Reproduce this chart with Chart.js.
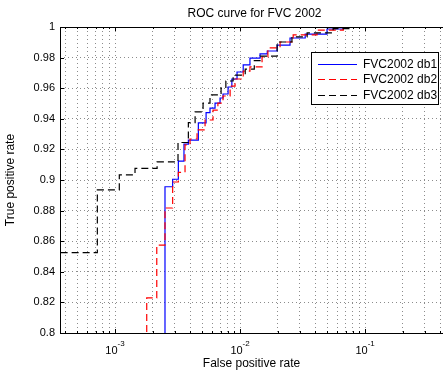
<!DOCTYPE html>
<html>
<head>
<meta charset="utf-8">
<script src="https://cdn.jsdelivr.net/npm/chart.js@4/dist/chart.umd.min.js"></script>
<style>
  html, body { margin: 0; padding: 0; background: #fff; }
  #wrap { width: 443px; height: 370px; }
</style>
</head>
<body>
<div id="wrap"><canvas id="roc" width="443" height="370"></canvas></div>
<script>
// --- data (false positive rate / true positive rate) ---
const db1Fpr = [2.51e-3, 2.51e-3, 2.89e-3, 3.21e-3, 3.56e-3, 3.86e-3, 4.64e-3, 5.35e-3, 5.75e-3, 6.31e-3, 6.92e-3, 7.31e-3, 8.02e-3, 8.6e-3, 9.46e-3, 1.06e-2, 1.2e-2, 1.445e-2, 1.65e-2, 1.98e-2, 2.51e-2, 3.32e-2, 4.96e-2, 6.7e-2, 1];
const db1Tpr = [0.7, 0.8956, 0.9005, 0.9124, 0.9235, 0.9261, 0.9374, 0.944, 0.947, 0.9503, 0.9536, 0.9562, 0.9608, 0.966, 0.9706, 0.9752, 0.9797, 0.9824, 0.9843, 0.9882, 0.9928, 0.9954, 0.9987, 1, 1];

const db2Fpr = [1.793e-3, 1.793e-3, 2.157e-3, 2.51e-3, 2.89e-3, 3.21e-3, 3.63e-3, 3.98e-3, 4.53e-3, 5.25e-3, 6.08e-3, 6.65e-3, 7.31e-3, 8.33e-3, 9.12e-3, 1.06e-2, 1.2e-2, 1.5e-2, 1.67e-2, 2.09e-2, 2.66e-2, 4.13e-2, 6.7e-2, 1];
const db2Tpr = [0.7, 0.8229, 0.8575, 0.8817, 0.8987, 0.905, 0.9229, 0.9268, 0.9327, 0.9392, 0.9457, 0.9503, 0.9549, 0.9614, 0.966, 0.9712, 0.9739, 0.9804, 0.9863, 0.9902, 0.9948, 0.998, 1, 1];

const db3Fpr = [2e-4, 7.22e-4, 1.082e-3, 1.445e-3, 2.17e-3, 3.19e-3, 3.86e-3, 4.37e-3, 5.06e-3, 5.75e-3, 7.05e-3, 7.7e-3, 8.8e-3, 1.1e-2, 1.3e-2, 1.445e-2, 1.98e-2, 2.6e-2, 3.44e-2, 5.55e-2, 7.6e-2, 1];
const db3Tpr = [0.8525, 0.8935, 0.9033, 0.9076, 0.9118, 0.9245, 0.9375, 0.9445, 0.9503, 0.9556, 0.9601, 0.9647, 0.9686, 0.9725, 0.978, 0.981, 0.9902, 0.9935, 0.9961, 0.999, 1, 1];

const seriesNames = ['FVC2002 db1', 'FVC2002 db2', 'FVC2002 db3'];
const seriesColors = ['#0000ff', '#ff0000', '#000000'];
const xDecades = [-4, -3, -2, -1];          // grid decades
const xLabelExps = ['-3', '-2', '-1'];       // labelled decades
const yTicks = [0.8, 0.82, 0.84, 0.86, 0.88, 0.9, 0.92, 0.94, 0.96, 0.98, 1];

const FONT = '"Liberation Sans", Arial, Helvetica, sans-serif';
const DASH = [7, 4];

function toPoints(xs, ys) {
    return xs.map((x, i) => ({ x: x, y: ys[i] }));
}

// --- matlab-ish frame, tick labels, titles and legend ---
const matlabDecor = {
    id: 'matlabDecor',
    afterDraw(chart) {
        const ctx = chart.ctx;
        const a = chart.chartArea;
        const xs = chart.scales.x;

        ctx.save();
        // frame
        ctx.strokeStyle = '#000';
        ctx.lineWidth = 1;
        ctx.beginPath();
        ctx.moveTo(a.left + 0.5, a.top + 0.5);
        ctx.lineTo(a.left + 0.5, a.bottom + 0.5);
        ctx.lineTo(a.right, a.bottom + 0.5);
        ctx.moveTo(a.left + 0.5, a.top + 0.5);
        ctx.lineTo(a.right, a.top + 0.5);
        ctx.stroke();

        // tick marks inside along left / bottom / top
        ctx.beginPath();
        yTicks.forEach(v => {
            const py = Math.round(chart.scales.y.getPixelForValue(v)) + 0.5;
            ctx.moveTo(a.left, py); ctx.lineTo(a.left + 4, py);
        });
        xDecades.forEach(e => {
            for (let m = 1; m < 10; m++) {
                const v = m * Math.pow(10, e);
                if (v < xs.min || v > xs.max) continue;
                const px = Math.round(xs.getPixelForValue(v)) + 0.5;
                const len = m === 1 ? 4 : 2;
                ctx.moveTo(px, a.bottom); ctx.lineTo(px, a.bottom - len);
                ctx.moveTo(px, a.top); ctx.lineTo(px, a.top + len);
            }
        });
        ctx.stroke();

        // x tick labels 10^e
        ctx.fillStyle = '#000';
        ctx.textBaseline = 'alphabetic';
        xLabelExps.forEach(e => {
            const px = xs.getPixelForValue(Math.pow(10, Number(e)));
            ctx.font = '11px ' + FONT;
            const wb = ctx.measureText('10').width;
            ctx.font = '8px ' + FONT;
            const we = ctx.measureText(e).width;
            const x0 = px - (wb + we) / 2;
            ctx.font = '11px ' + FONT;
            ctx.textAlign = 'left';
            ctx.fillText('10', x0, a.bottom + 21);
            ctx.font = '8px ' + FONT;
            ctx.fillText(e, x0 + wb, a.bottom + 13);
        });

        // title + axis titles
        const cx = (a.left + a.right) / 2;
        ctx.textAlign = 'center';
        ctx.font = '12px ' + FONT;
        ctx.fillText('ROC curve for FVC 2002', cx + 3, 17);
        ctx.fillText('False positive rate', cx, 367);
        ctx.save();
        ctx.translate(14, (a.top + a.bottom) / 2);
        ctx.rotate(-Math.PI / 2);
        ctx.fillText('True positive rate', 0, 0);
        ctx.restore();

        // legend
        const lx = 311, ly = 52, lw = 127, lh = 52;
        ctx.fillStyle = '#fff';
        ctx.fillRect(lx, ly, lw, lh);
        ctx.strokeStyle = '#000';
        ctx.strokeRect(lx + 0.5, ly + 0.5, lw, lh);
        seriesNames.forEach((name, i) => {
            const ry = ly + 11.5 + i * 15.5;
            ctx.beginPath();
            ctx.strokeStyle = seriesColors[i];
            ctx.lineWidth = 1.2;
            ctx.setLineDash(i === 0 ? [] : DASH);
            ctx.moveTo(318, Math.round(ry) + 0.5);
            ctx.lineTo(357, Math.round(ry) + 0.5);
            ctx.stroke();
            ctx.setLineDash([]);
            ctx.fillStyle = '#000';
            ctx.textAlign = 'left';
            ctx.textBaseline = 'middle';
            ctx.font = '12px ' + FONT;
            ctx.fillText(name, 363, ry + 1);
        });
        ctx.restore();
    }
};

const ctx = document.getElementById('roc').getContext('2d');
new Chart(ctx, {
    type: 'line',
    data: {
        datasets: [
            {
                label: seriesNames[0],
                data: toPoints(db1Fpr, db1Tpr),
                borderColor: seriesColors[0],
                borderWidth: 1.2,
                stepped: 'before',
                pointRadius: 0,
                fill: false,
                order: 2
            },
            {
                label: seriesNames[1],
                data: toPoints(db2Fpr, db2Tpr),
                borderColor: seriesColors[1],
                borderWidth: 1.2,
                borderDash: DASH,
                stepped: 'before',
                pointRadius: 0,
                fill: false,
                order: 1
            },
            {
                label: seriesNames[2],
                data: toPoints(db3Fpr, db3Tpr),
                borderColor: seriesColors[2],
                borderWidth: 1.2,
                borderDash: DASH,
                stepped: 'before',
                pointRadius: 0,
                fill: false,
                order: 0
            }
        ]
    },
    options: {
        responsive: false,
        animation: false,
        layout: { padding: { top: 27, right: 0, left: 0, bottom: 0 } },
        plugins: {
            legend: { display: false },
            title: { display: false },
            tooltip: { enabled: false }
        },
        scales: {
            x: {
                type: 'logarithmic',
                min: 3.63e-4,
                max: 0.42,
                afterFit(s) { s.height = 37; },
                afterBuildTicks(s) {
                    const t = [];
                    xDecades.forEach(e => {
                        for (let m = 1; m < 10; m++) t.push({ value: m * Math.pow(10, e) });
                    });
                    s.ticks = t.filter(k => k.value >= s.min && k.value <= s.max);
                },
                ticks: { display: false },
                grid: { color: 'rgba(0,0,0,0.45)', lineWidth: 1, drawTicks: false },
                border: { display: false, dash: [1, 3] }
            },
            y: {
                min: 0.8,
                max: 1,
                afterFit(s) { s.width = 60; },
                afterBuildTicks(s) { s.ticks = yTicks.map(v => ({ value: v })); },
                ticks: {
                    padding: 5,
                    color: '#000',
                    font: { family: FONT, size: 11 },
                    callback: v => String(Number(v.toFixed(2)))
                },
                grid: { color: 'rgba(0,0,0,0.45)', lineWidth: 1, drawTicks: false },
                border: { display: false, dash: [1, 3] }
            }
        }
    },
    plugins: [matlabDecor]
});
</script>
</body>
</html>
